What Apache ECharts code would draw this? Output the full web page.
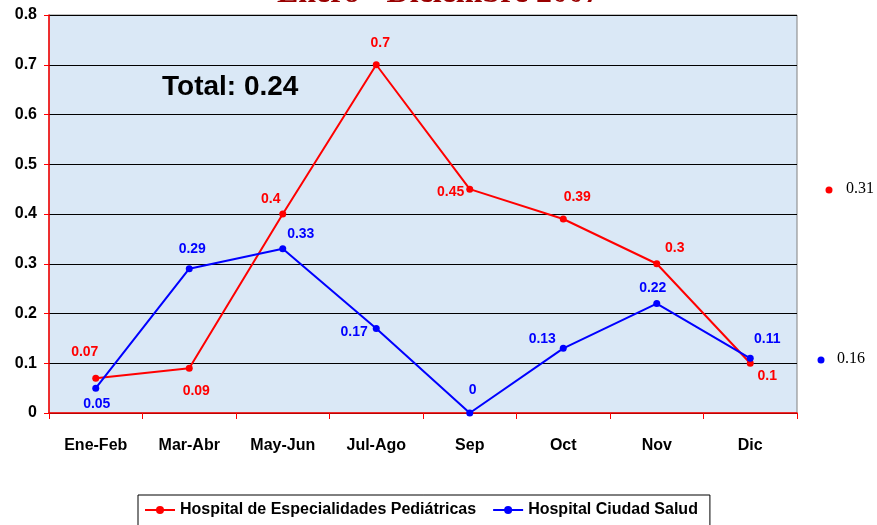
<!DOCTYPE html>
<html>
<head>
<meta charset="utf-8">
<script src="https://cdn.jsdelivr.net/npm/echarts@6/dist/echarts.min.js"></script>
<style>
  html, body { margin: 0; padding: 0; background: #fff; }
  #chart { width: 877px; height: 525px; }
</style>
</head>
<body>
<div id="chart"></div>
<script>
var categories = ['Ene-Feb', 'Mar-Abr', 'May-Jun', 'Jul-Ago', 'Sep', 'Oct', 'Nov', 'Dic'];
var pediatricas = [0.07, 0.09, 0.4, 0.7, 0.45, 0.39, 0.3, 0.1];
var ciudadSalud = [0.05, 0.29, 0.33, 0.17, 0, 0.13, 0.22, 0.11];
var seriesNames = ['Hospital de Especialidades Pediátricas', 'Hospital Ciudad Salud'];
var averages = [0.31, 0.16];
var totalText = 'Total: 0.24';
var titleText = 'Enero - Diciembre 2007';

// label placement per point, as in the picture
var pedLabelPos = ['top', 'bottom', 'top', 'top', 'left', 'top', 'top', 'bottom'];
var pedLabelOff = [[-11, -7], [7, 3], [-12, 5], [4, -2], [7, 3], [14, -2], [18, 4], [17, -7]];
var salLabelPos = ['bottom', 'top', 'top', 'left', 'top', 'top', 'top', 'top'];
var salLabelOff = [[1, -3], [3, 0], [18, 5], [4, 4], [3, -3], [-21, 10], [-4, 4], [17, 0]];

var font = 'Liberation Sans, Arial, sans-serif';

function buildData(values, positions, offsets) {
    return values.map(function (v, i) {
        return {
            value: v,
            label: { position: positions[i], offset: offsets[i] }
        };
    });
}

var chart = echarts.init(document.getElementById('chart'));

chart.setOption({
    animation: false,
    backgroundColor: '#ffffff',
    title: {
        text: titleText,
        left: 'center',
        top: -27,
        textStyle: {
            fontFamily: 'Liberation Serif, Times New Roman, serif',
            fontSize: 32,
            fontWeight: 'bold',
            color: '#990000'
        }
    },
    legend: {
        bottom: -8,
        left: 138,
        itemWidth: 30,
        itemHeight: 10,
        itemGap: 16,
        padding: [7, 12, 15, 6],
        borderColor: '#000',
        borderWidth: 1,
        data: seriesNames,
        textStyle: {
            fontFamily: font,
            fontSize: 16,
            fontWeight: 'bold',
            color: '#000'
        }
    },
    grid: {
        left: 49,
        right: 80,
        top: 15,
        bottom: 112,
        show: true,
        backgroundColor: '#dae8f6',
        borderColor: '#808080',
        borderWidth: 1
    },
    xAxis: {
        type: 'category',
        data: categories,
        boundaryGap: true,
        axisLine: { lineStyle: { color: '#ff0000', width: 1.5 } },
        axisTick: { show: true, length: 6, lineStyle: { color: '#ff0000' } },
        axisLabel: {
            margin: 25,
            fontFamily: font,
            fontSize: 16,
            fontWeight: 'bold',
            color: '#000'
        }
    },
    yAxis: {
        type: 'value',
        min: 0,
        max: 0.8,
        interval: 0.1,
        axisLine: { show: true, lineStyle: { color: '#ff0000', width: 1.5 } },
        axisTick: { show: true, length: 5, lineStyle: { color: '#ff0000' } },
        splitLine: { lineStyle: { color: '#000', width: 1 } },
        axisLabel: {
            margin: 12,
            fontFamily: font,
            fontSize: 16,
            fontWeight: 'bold',
            color: '#000',
            formatter: function (v) { return String(Math.round(v * 10) / 10); }
        }
    },
    graphic: [
        {
            type: 'text',
            left: 162,
            top: 73,
            style: {
                text: totalText,
                fontFamily: font,
                fontSize: 28,
                fontWeight: 'bold',
                fill: '#000'
            }
        },
        {
            type: 'circle',
            shape: { cx: 829, cy: 190, r: 3.5 },
            style: { fill: '#ff0000' }
        },
        {
            type: 'text',
            left: 846,
            top: 181,
            style: {
                text: String(averages[0]),
                fontFamily: 'Liberation Serif, serif',
                fontSize: 16,
                fill: '#000'
            }
        },
        {
            type: 'circle',
            shape: { cx: 821, cy: 360, r: 3.5 },
            style: { fill: '#0000ff' }
        },
        {
            type: 'text',
            left: 837,
            top: 351,
            style: {
                text: String(averages[1]),
                fontFamily: 'Liberation Serif, serif',
                fontSize: 16,
                fill: '#000'
            }
        }
    ],
    series: [
        {
            name: seriesNames[0],
            type: 'line',
            data: buildData(pediatricas, pedLabelPos, pedLabelOff),
            symbol: 'circle',
            symbolSize: 7,
            lineStyle: { color: '#ff0000', width: 2 },
            itemStyle: { color: '#ff0000' },
            label: {
                show: true,
                distance: 9,
                fontFamily: font,
                fontSize: 14,
                fontWeight: 'bold',
                color: '#ff0000'
            }
        },
        {
            name: seriesNames[1],
            type: 'line',
            data: buildData(ciudadSalud, salLabelPos, salLabelOff),
            symbol: 'circle',
            symbolSize: 7,
            lineStyle: { color: '#0000ff', width: 2 },
            itemStyle: { color: '#0000ff' },
            label: {
                show: true,
                distance: 9,
                fontFamily: font,
                fontSize: 14,
                fontWeight: 'bold',
                color: '#0000ff'
            }
        }
    ]
});
</script>
</body>
</html>
